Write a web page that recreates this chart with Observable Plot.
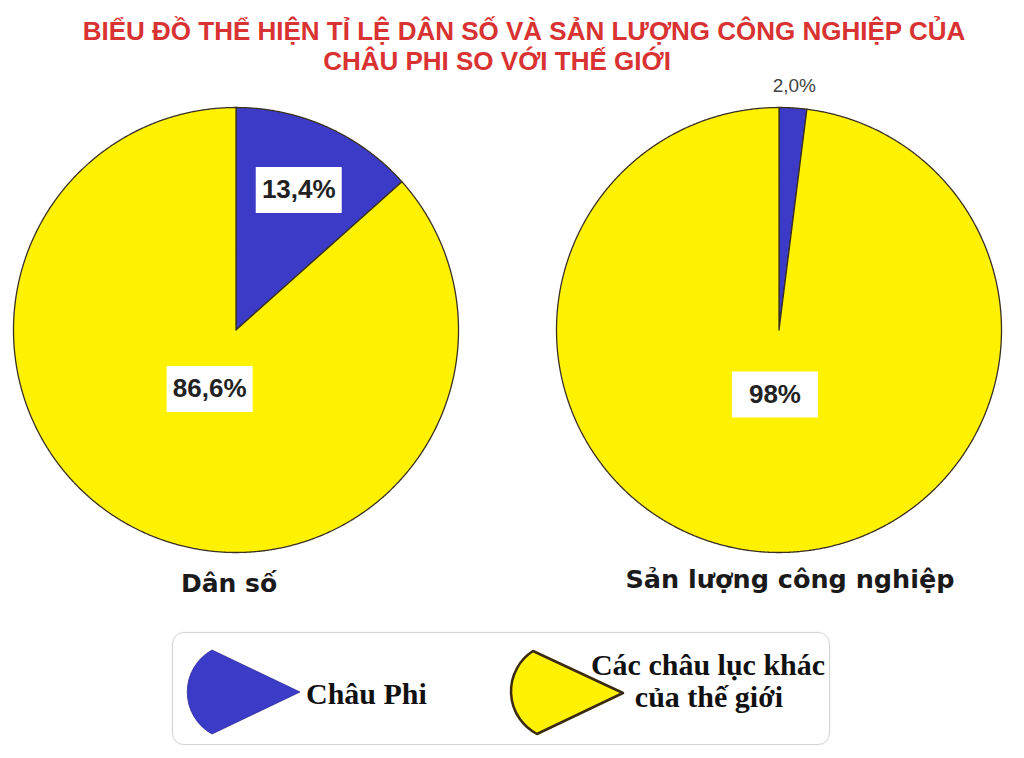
<!DOCTYPE html>
<html><head><meta charset="utf-8">
<script src="https://cdn.jsdelivr.net/npm/d3@7"></script>
<script src="https://cdn.jsdelivr.net/npm/@observablehq/plot@0.6"></script>
<style>
html,body{margin:0;padding:0;background:#fff}
body{width:1024px;height:758px;overflow:hidden;position:relative;font-family:"Liberation Sans",Arial,sans-serif}
#title{position:absolute;left:0;top:0;width:1024px;height:75px;color:#d83232;font-weight:bold;font-size:26px;line-height:30px}
#title div{position:absolute;left:0;width:1024px;text-align:center;white-space:nowrap}
#chart{position:absolute;left:0;top:75px}
#legend{position:absolute;left:172px;top:632px;width:656px;height:111px;border:1.5px solid #d4d4d4;border-radius:12px;box-shadow:0 0 2px rgba(0,0,0,0.08)}
</style></head>
<body>
<div id="title"><div style="top:16px;left:12px">BIỂU ĐỒ THỂ HIỆN TỈ LỆ DÂN SỐ VÀ SẢN LƯỢNG CÔNG NGHIỆP CỦA</div><div style="top:46px;left:-15px">CHÂU PHI SO VỚI THẾ GIỚI</div></div>
<div id="chart"></div>
<div id="legend"></div>
<script>
// ---- data ----
const groups = ["Dân số", "Sản lượng công nghiệp"];
const sliceNames = ["Châu Phi", "Các châu lục khác của thế giới"];
const africaShare = [13.4, 2.0];
const otherShare = [86.6, 98];
const africaLabels = ["13,4%", "2,0%"];
const otherLabels = ["86,6%", "98%"];
const colors = ["#3b3bc8", "#fff200"];

// ---- build pie geometry from the data ----
const pie = d3.pie().sort(null).value(d => d.value);
const points = [], labels = [];
groups.forEach((g, gi) => {
  const rows = [
    {group: g, slice: sliceNames[0], value: africaShare[gi], label: africaLabels[gi]},
    {group: g, slice: sliceNames[1], value: otherShare[gi], label: otherLabels[gi]}
  ];
  pie(rows).forEach((a, si) => {
    const key = g + "|" + a.data.slice;
    points.push({group: g, slice: a.data.slice, key, x: 0, y: 0});
    const n = Math.max(2, Math.ceil((a.endAngle - a.startAngle) / 0.005));
    for (let i = 0; i <= n; i++) {
      const t = a.startAngle + (a.endAngle - a.startAngle) * i / n;
      points.push({group: g, slice: a.data.slice, key, x: Math.sin(t), y: Math.cos(t)});
    }
    points.push({group: g, slice: a.data.slice, key, x: 0, y: 0});
    const mid = (a.startAngle + a.endAngle) / 2;
    const small = a.data.value < 5;
    const r = small ? 1.1 : (si === 0 ? 0.69 : 0.29);
    labels.push({group: g, text: a.data.label, boxed: !small, lx: r * Math.sin(mid), ly: r * Math.cos(mid)});
  });
});

const boxSymbol = {draw(ctx) { ctx.rect(-43, -23, 86, 46); }};

const chart = Plot.plot({
  width: 1024, height: 540,
  marginLeft: 12, marginRight: 22, marginTop: 32, marginBottom: 63,
  fx: {domain: groups, paddingInner: 0.18, paddingOuter: 0, axis: null},
  x: {domain: [-1, 1], axis: null},
  y: {domain: [-1, 1], axis: null},
  color: {domain: sliceNames, range: colors},
  marks: [
    Plot.line(points, {fx: "group", x: "x", y: "y", z: "key", fill: "slice", stroke: "#3a3020", strokeWidth: 1.3, curve: "linear"}),
    Plot.dot(labels.filter(d => d.boxed), {fx: "group", x: "lx", y: "ly", symbol: boxSymbol, r: 10, fill: "white", stroke: "none"}),
    Plot.text(labels.filter(d => d.boxed), {fx: "group", x: "lx", y: "ly", text: "text", fontSize: 26, fontWeight: "bold", fill: "#222", fontFamily: "'Liberation Sans', Arial, sans-serif"}),
    Plot.text(labels.filter(d => !d.boxed), {fx: "group", x: "lx", y: "ly", text: "text", fontSize: 19, fill: "#444", fontFamily: "'Liberation Sans', Arial, sans-serif"}),
    Plot.text([groups[0]], {fx: d => d, text: d => d, frameAnchor: "bottom", lineAnchor: "middle", dy: 31, dx: -7, fontSize: 25, fontWeight: "bold", fill: "#1a1a1a", fontFamily: "'DejaVu Sans', sans-serif"}),
    Plot.text([groups[1]], {fx: d => d, text: d => d, frameAnchor: "bottom", lineAnchor: "middle", dy: 27, dx: 11, fontSize: 25.5, fontWeight: "bold", fill: "#1a1a1a", fontFamily: "'DejaVu Sans', sans-serif"})
  ]
});
document.getElementById("chart").appendChild(chart);

// ---- legend ----
const lg = d3.select("#legend").append("svg").attr("width", 656).attr("height", 111).style("position", "absolute").style("left", "0").style("top", "0");
lg.append("path").attr("d", "M127,59 L39,17 A48,48 0 0 0 39,101 Z").attr("fill", colors[0]).attr("stroke", "#2e2e9a").attr("stroke-width", 0.8);
lg.append("path").attr("d", "M450,60 L360,18 A48,48 0 0 0 364,101 Z").attr("fill", colors[1]).attr("stroke", "#3a2a10").attr("stroke-width", 2.5).attr("stroke-linejoin", "round");
const serif = "'Liberation Serif', 'Times New Roman', serif";
lg.append("text").attr("x", 133).attr("y", 60).attr("dy", "0.35em").attr("font-family", serif).attr("font-weight", "bold").attr("font-size", 30).attr("fill", "#111").text("Châu Phi");
lg.append("text").attr("x", 535).attr("y", 31).attr("dy", "0.35em").attr("text-anchor", "middle").attr("font-family", serif).attr("font-weight", "bold").attr("font-size", 30).attr("fill", "#111").text("Các châu lục khác");
lg.append("text").attr("x", 536).attr("y", 63).attr("dy", "0.35em").attr("text-anchor", "middle").attr("font-family", serif).attr("font-weight", "bold").attr("font-size", 30).attr("fill", "#111").text("của thế giới");
</script>
</body></html>
